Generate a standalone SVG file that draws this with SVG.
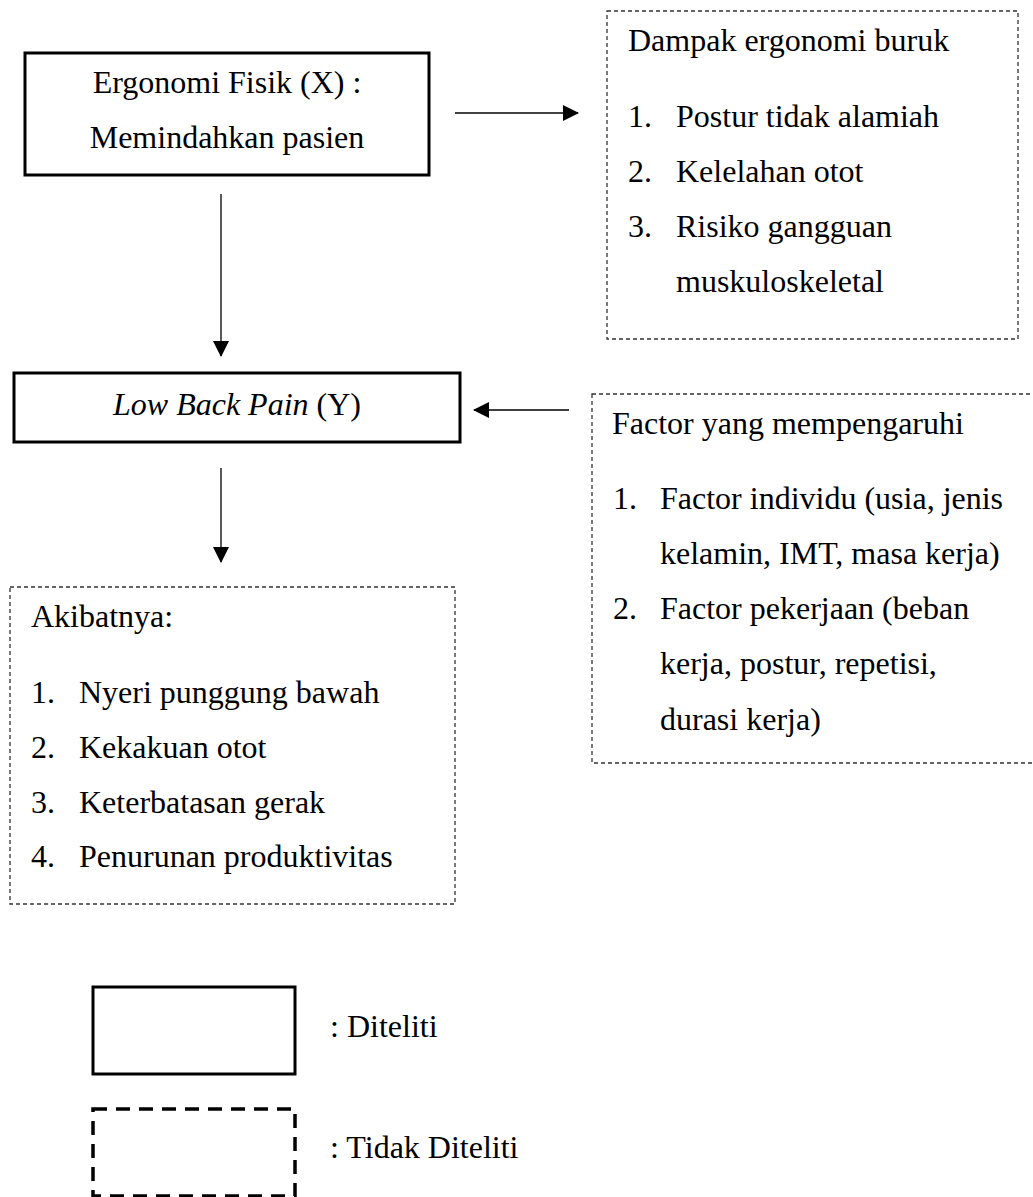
<svg xmlns="http://www.w3.org/2000/svg" width="1033" height="1197" viewBox="0 0 1033 1197">
<style>
text{font-family:"Liberation Serif","Times New Roman",serif;font-size:32px;fill:#000}
.solid{fill:#fff;stroke:#000;stroke-width:3}
.thin{fill:#fff;stroke:#333;stroke-width:1.3;stroke-dasharray:4 3}
.thick{fill:none;stroke:#000;stroke-width:3.5;stroke-dasharray:14 9}
.conn{stroke:#000;stroke-width:1.3;fill:none}
.c{text-anchor:middle}
</style>
<defs>
<marker id="ah" viewBox="0 0 16 16" refX="15" refY="8" markerWidth="16" markerHeight="16" markerUnits="userSpaceOnUse" orient="auto">
<path d="M0,0 L16,8 L0,16 Z" fill="#000"/>
</marker>
</defs>
<g id="connectors">
<line class="conn" x1="455" y1="113" x2="578" y2="113" marker-end="url(#ah)"/>
<line class="conn" x1="221" y1="194" x2="221" y2="356" marker-end="url(#ah)"/>
<line class="conn" x1="569" y1="410" x2="474" y2="410" marker-end="url(#ah)"/>
<line class="conn" x1="221" y1="468" x2="221" y2="562" marker-end="url(#ah)"/>
</g>
<g id="node-ergonomi">
<rect class="solid" x="25" y="53" width="404" height="122"/>
<text class="c" x="227" y="93">Ergonomi Fisik (X) :</text>
<text class="c" x="227" y="148">Memindahkan pasien</text>
</g>
<g id="node-dampak">
<rect class="thin" x="607" y="11" width="411" height="328"/>
<text x="628" y="51">Dampak ergonomi buruk</text>
<text x="628" y="127">1.</text><text x="676" y="127">Postur tidak alamiah</text>
<text x="628" y="182">2.</text><text x="676" y="182">Kelelahan otot</text>
<text x="628" y="237">3.</text><text x="676" y="237">Risiko gangguan</text>
<text x="676" y="292">muskuloskeletal</text>
</g>
<g id="node-lbp">
<rect class="solid" x="14" y="373" width="446" height="69"/>
<text class="c" x="237" y="415"><tspan font-style="italic">Low Back Pain</tspan> (Y)</text>
</g>
<g id="node-factor">
<rect class="thin" x="592" y="394" width="445" height="369"/>
<text x="612" y="434">Factor yang mempengaruhi</text>
<text x="613" y="509">1.</text><text x="660" y="509">Factor individu (usia, jenis</text>
<text x="660" y="564">kelamin, IMT, masa kerja)</text>
<text x="613" y="619">2.</text><text x="660" y="619">Factor pekerjaan (beban</text>
<text x="660" y="674">kerja, postur, repetisi,</text>
<text x="660" y="730">durasi kerja)</text>
</g>
<g id="node-akibat">
<rect class="thin" x="10" y="587" width="445" height="317"/>
<text x="31" y="627">Akibatnya:</text>
<text x="31" y="703">1.</text><text x="79" y="703">Nyeri punggung bawah</text>
<text x="31" y="758">2.</text><text x="79" y="758">Kekakuan otot</text>
<text x="31" y="813">3.</text><text x="79" y="813">Keterbatasan gerak</text>
<text x="31" y="867">4.</text><text x="79" y="867">Penurunan produktivitas</text>
</g>
<g id="legend-diteliti">
<rect class="solid" x="93" y="987" width="202" height="87"/>
<text x="330" y="1037">: Diteliti</text>
</g>
<g id="legend-tidak">
<rect class="thick" x="93" y="1109" width="202" height="87"/>
<text x="330" y="1158">: Tidak Diteliti</text>
</g>
</svg>
